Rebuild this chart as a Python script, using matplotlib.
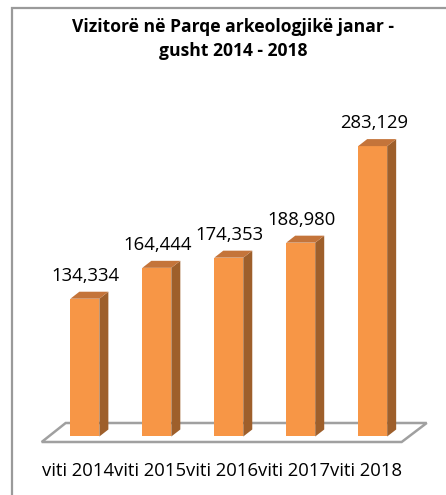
import matplotlib
matplotlib.use("Agg")
import matplotlib.pyplot as plt
from matplotlib.patches import Polygon, Rectangle

categories = ["viti 2014", "viti 2015", "viti 2016", "viti 2017", "viti 2018"]
values = [134334, 164444, 174353, 188980, 283129]
value_labels = ["134,334", "164,444", "174,353", "188,980", "283,129"]
title = "Vizitorë në Parqe arkeologjikë janar -\ngusht 2014 - 2018"

W, H, DPI = 446, 495, 100
fig = plt.figure(figsize=(W / DPI, H / DPI), dpi=DPI)
fig.patch.set_facecolor("white")

# chart frame
fig.patches.append(Rectangle((12 / W, -0.05), 1.1, (1 - 8 / H) + 0.05,
                             transform=fig.transFigure, fill=False,
                             edgecolor="#9a9a9a", lw=1.6, zorder=0))

ax = fig.add_axes([48.9 / W, (H - 444.7) / H, 359.75 / W, (444.7 - 128.8) / H])
ax.set_xlim(-0.5, 4.5)
ax.set_ylim(-8000, 300000)
ax.axis("off")

front = "#F79646"
side = "#9E5F2B"
top = "#C4743A"
bw = 0.403
dx = 0.125
dy = 6825

# floor
floor = Polygon([(-0.600, -5360), (4.403, -5360), (4.751, 13160), (-0.267, 13160)],
                closed=True, facecolor="white", edgecolor="#a0a0a0", lw=1.8,
                zorder=1, clip_on=False)
ax.add_patch(floor)

xs = list(range(len(values)))
ax.bar(xs, values, width=bw, color=front, edgecolor="none", zorder=3)
for x, v in zip(xs, values):
    r = x + bw / 2
    l = x - bw / 2
    ax.add_patch(Polygon([(r, 0), (r + dx, dy), (r + dx, v + dy), (r, v)],
                         closed=True, facecolor=side, edgecolor="none", zorder=2))
    ax.add_patch(Polygon([(l, v), (r, v), (r + dx, v + dy), (l + dx, v + dy)],
                         closed=True, facecolor=top, edgecolor="none", zorder=3))

font = "Open Sans"
for x, v, lab in zip(xs, values, value_labels):
    ax.annotate(lab, (x, v), xytext=(1, 18), textcoords="offset pixels",
                ha="center", va="baseline", fontsize=13.3, family=font,
                color="black", annotation_clip=False)

for x, c in zip(xs, categories):
    ax.annotate(c, (x, 0), xytext=(-7, -39.2), textcoords="offset pixels",
                ha="center", va="baseline", fontsize=13.3, family=font,
                color="black", annotation_clip=False)

fig.text(233 / W, 1 - 39 / H, title, ha="center", va="center",
         fontsize=12.6, fontweight="bold", family=font, linespacing=1.42)

fig.savefig("out.png", dpi=DPI)
